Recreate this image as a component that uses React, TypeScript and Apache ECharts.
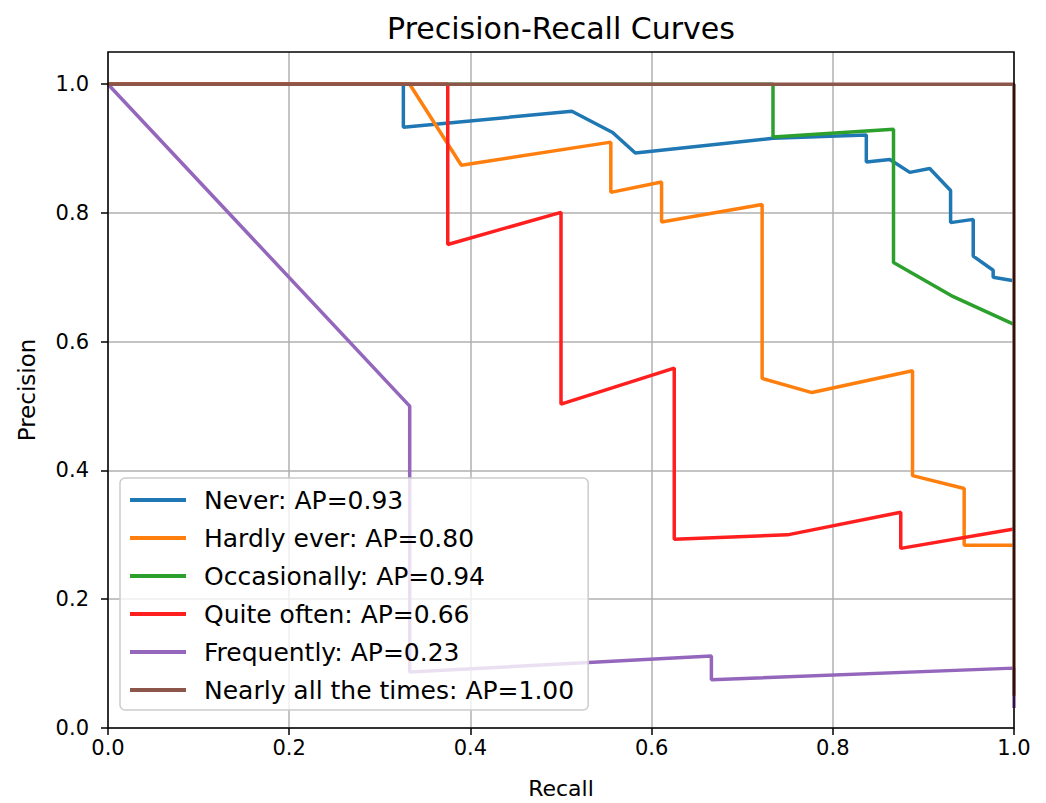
import React, { useEffect, useRef } from "react";
import * as echarts from "echarts";

const titleText = "Precision-Recall Curves";
const classNames = ["Never", "Hardly ever", "Occasionally", "Quite often", "Frequently", "Nearly all the times"];
const apValues = ["0.93", "0.80", "0.94", "0.66", "0.23", "1.00"];
const colors = ["#1f77b4", "#ff7f0e", "#2ca02c", "#ff1f1f", "#9467bd", "#8c564b"];

const neverRecall = [0, 0.326, 0.326, 0.512, 0.557, 0.582, 0.734, 0.837, 0.837, 0.863, 0.885, 0.907, 0.930, 0.930, 0.955, 0.955, 0.977, 0.977, 0.998];
const neverPrecision = [1, 1, 0.933, 0.958, 0.925, 0.893, 0.916, 0.921, 0.879, 0.883, 0.863, 0.869, 0.835, 0.785, 0.790, 0.733, 0.711, 0.700, 0.695];

const hardlyRecall = [0, 0.333, 0.390, 0.555, 0.555, 0.611, 0.611, 0.722, 0.722, 0.777, 0.888, 0.888, 0.945, 0.945, 1.0];
const hardlyPrecision = [1, 1, 0.874, 0.910, 0.832, 0.848, 0.786, 0.813, 0.543, 0.521, 0.555, 0.392, 0.372, 0.284, 0.284];

const occasionallyRecall = [0, 0.734, 0.734, 0.867, 0.867, 0.933, 1.0];
const occasionallyPrecision = [1, 1, 0.918, 0.930, 0.723, 0.670, 0.627];

const quiteRecall = [0, 0.375, 0.375, 0.5, 0.5, 0.625, 0.625, 0.75, 0.875, 0.875, 1.0];
const quitePrecision = [1, 1, 0.751, 0.801, 0.503, 0.559, 0.293, 0.300, 0.335, 0.279, 0.309];

const frequentlyRecall = [0, 0.333, 0.333, 0.666, 0.666, 1.0, 1.0];
const frequentlyPrecision = [1, 0.5, 0.087, 0.112, 0.075, 0.093, 0.031];

const nearlyRecall = [0, 1.0, 1.0];
const nearlyPrecision = [1, 1, 0.05];

const recallSets = [neverRecall, hardlyRecall, occasionallyRecall, quiteRecall, frequentlyRecall, nearlyRecall];
const precisionSets = [neverPrecision, hardlyPrecision, occasionallyPrecision, quitePrecision, frequentlyPrecision, nearlyPrecision];

const tickValues = [0, 0.2, 0.4, 0.6, 0.8, 1.0];

export default function App() {
  const ref = useRef<HTMLDivElement>(null);
  useEffect(() => {
    if (!ref.current) return;
    const chart = echarts.init(ref.current, undefined, { renderer: "svg" });
    const font = "'DejaVu Sans', sans-serif";
    const series = classNames.map((name, i) => ({
      name: `${name}: AP=${apValues[i]}`,
      type: "line",
      data: recallSets[i].map((r, j) => [r, precisionSets[i][j]]),
      showSymbol: false,
      symbol: "none",
      lineStyle: { color: colors[i], width: 3.5 },
      itemStyle: { color: colors[i] },
      z: 2,
    }));
    chart.setOption({
      animation: false,
      backgroundColor: "#ffffff",
      grid: {
        left: 108,
        right: 32,
        top: 52,
        bottom: 75,
        show: true,
        borderColor: "#000",
        borderWidth: 1.5,
        z: 10,
        containLabel: false,
        outerBoundsMode: "none",
      },
      graphic: [
        {
          type: "text",
          x: 561,
          y: 28,
          style: {
            text: titleText,
            fontFamily: font,
            fontSize: 30,
            fill: "#000",
            textAlign: "center",
            textVerticalAlign: "middle",
          },
        },
      ],
      xAxis: {
        type: "value",
        min: 0,
        max: 1,
        interval: 0.2,
        name: "Recall",
        nameLocation: "middle",
        nameGap: 49,
        nameTextStyle: { fontFamily: font, fontSize: 22, color: "#000" },
        axisLine: { show: false },
        axisTick: { show: true, length: 7, lineStyle: { color: "#000", width: 1.5 } },
        axisLabel: {
          fontFamily: font,
          fontSize: 21,
          color: "#000",
          margin: 9,
          formatter: (v: number) => v.toFixed(1),
        },
        splitLine: { show: true, lineStyle: { color: "#b0b0b0", width: 1.5 } },
      },
      yAxis: {
        type: "value",
        min: 0,
        max: 1.05,
        name: "Precision",
        nameLocation: "middle",
        nameGap: 70,
        nameTextStyle: { fontFamily: font, fontSize: 23, color: "#000" },
        axisLine: { show: false },
        axisTick: { show: true, length: 7, customValues: tickValues, lineStyle: { color: "#000", width: 1.5 } },
        axisLabel: {
          fontFamily: font,
          fontSize: 21,
          color: "#000",
          margin: 19,
          customValues: tickValues,
          formatter: (v: number) => v.toFixed(1),
        },
        splitLine: { show: true, lineStyle: { color: "#b0b0b0", width: 1.5 } },
      },
      legend: {
        orient: "vertical",
        left: 120,
        top: 478,
        z: 20,
        backgroundColor: "rgba(255,255,255,0.8)",
        borderColor: "#cccccc",
        borderWidth: 1.5,
        borderRadius: 5,
        padding: [8, 14, 6, 10],
        itemWidth: 56,
        itemHeight: 4,
        itemGap: 10,
        icon: "rect",
        textStyle: {
          fontFamily: font,
          fontSize: 25,
          color: "#000",
          lineHeight: 28,
          padding: [0, 0, 0, 13],
        },
        data: series.map((s, i) => ({ name: s.name, itemStyle: { color: colors[i] } })),
      },
      series,
    });
    return () => chart.dispose();
  }, []);
  return (
    <div
      ref={ref}
      style={{ position: "fixed", left: 0, top: 0, width: 1046, height: 803 }}
    />
  );
}
